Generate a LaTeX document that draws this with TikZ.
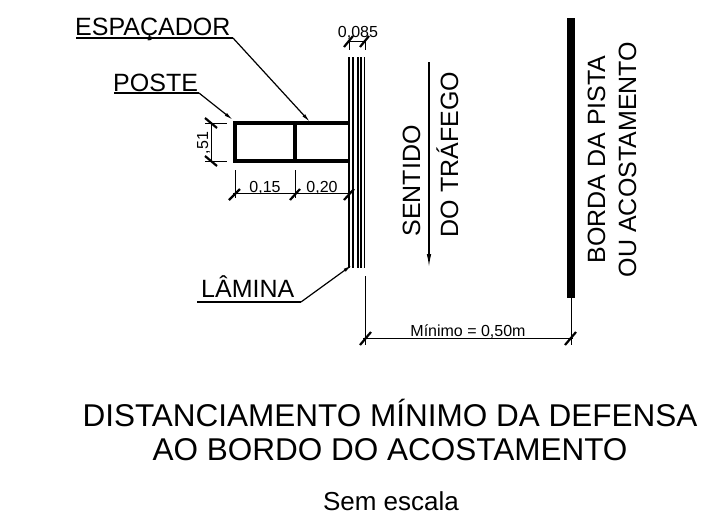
\documentclass[tikz,border=0pt]{standalone}
\usepackage{fontspec}
\setmainfont{Liberation Sans}
\usetikzlibrary{arrows.meta}
\tikzset{
  lbl/.style={inner sep=0pt,anchor=base west,text=black},
  heavy/.style={draw=black,line width=3.2pt},
  under/.style={draw=black,line width=1.5pt},
  leader/.style={draw=black,line width=1.2pt,-{Latex[length=9pt,width=3.5pt]}},
  tick/.style={draw=black,line width=2.2pt},
  dimline/.style={draw=black,line width=1pt},
  big/.style={font=\fontsize{25}{25}\selectfont},
  mid/.style={font=\fontsize{25}{25}\selectfont},
  dimtext/.style={font=\fontsize{16}{16}\selectfont},
}
\begin{document}
\begin{tikzpicture}[x=1pt,y=-1pt]
\useasboundingbox (0,0) rectangle (702,517);
% Labels
\node[lbl,big] (esp) at (75,35) {ESPAÇADOR};
\node[lbl,big] (pos) at (113,91) {POSTE};
\node[lbl,big] (lam) at (201,297) {LÂMINA};
% Post and spacer
\draw[heavy] (235,123) rectangle (295,161);
\draw[heavy] (295,123) -- (348,123) (295,161) -- (348,161);
% Leaders
\coordinate (e0) at (76,38); \coordinate (e1) at (233,38); \coordinate (e2) at (310,122);
\draw[under] (e0) -- (e1);
\draw[leader] (e1) -- (e2);
\coordinate (q0) at (114,93); \coordinate (q1) at (199,93); \coordinate (q2) at (233,120);
\draw[under] (q0) -- (q1);
\draw[leader] (q1) -- (q2);
\coordinate (l0) at (197,302); \coordinate (l1) at (301,302); \coordinate (l2) at (352,265);
\draw[under] (l0) -- (l1);
\draw[leader] (l1) -- (l2);
% Blade
\foreach \x/\w in {349/1.2,353/1.2,358/1.5,361/1.5,364.5/1.5}{
  \draw[draw=black,line width=\w pt] (\x,57) -- (\x,268);
}
% dim 0,085
\node[anchor=base,inner sep=0pt,dimtext] (d085) at (358,37) {0,085};
\draw[dimline] (349,41) -- (365,41) (349,41) -- (349,50) (365,41) -- (365,50);
\draw[tick] (344,47) -- (353,36);
\draw[tick] (360,47) -- (369,36);
% dim ,51
\node[rotate=90,anchor=base,inner sep=0pt,dimtext] (d51) at (208,143) {,51};
\draw[dimline] (211,123) -- (211,161) (205,123) -- (227,123) (205,161) -- (227,161);
\draw[tick] (205,118) -- (217,128);
\draw[tick] (205,156) -- (217,166);
% dim 0,15 0,20
\draw[dimline] (235,170) -- (235,198) (295,170) -- (295,198);
\draw[dimline] (233,193) -- (350,193);
\draw[tick] (229,200) -- (240,189);
\draw[tick] (290,200) -- (300,189);
\draw[tick] (344,200) -- (354,189);
\node[anchor=base,inner sep=0pt,dimtext] (d15) at (265,192) {0,15};
\node[anchor=base,inner sep=0pt,dimtext] (d20) at (322,192) {0,20};
% Traffic
\node[rotate=90,anchor=base,inner sep=0pt,mid] (sen) at (420,181) {SENTIDO};
\node[rotate=90,anchor=base,inner sep=0pt,mid] (tra) at (458,154.5) {DO TRÁFEGO};
\coordinate (a0) at (429,62); \coordinate (a1) at (429,267);
\draw[draw=black,line width=1.2pt,-{Latex[length=13pt,width=4.5pt]}] (a0) -- (a1);
% Road edge
\draw[draw=black,line width=8pt] (571,18) -- (571,298);
\node[rotate=90,anchor=base,inner sep=0pt,mid] (bor) at (605,159.5) {BORDA DA PISTA};
\node[rotate=90,anchor=base,inner sep=0pt,mid] (acc) at (636,159.5) {OU ACOSTAMENTO};
% dim minimum
\draw[dimline] (365,276) -- (365,345) (571,298) -- (571,345);
\draw[dimline] (363,338) -- (573,338);
\draw[tick] (360,345) -- (371,332);
\draw[tick] (565,345) -- (576,332);
\node[anchor=base,inner sep=0pt,dimtext] (min) at (468,336) {Mínimo = 0,50m};
% Title
\node[anchor=base,inner sep=0pt,font=\fontsize{31.5}{31.5}\selectfont] (t1) at (390,426) {DISTANCIAMENTO MÍNIMO DA DEFENSA};
\node[anchor=base,inner sep=0pt,font=\fontsize{31.5}{31.5}\selectfont] (t2) at (390,460) {AO BORDO DO ACOSTAMENTO};
\node[anchor=base,inner sep=0pt,font=\fontsize{26}{26}\selectfont] (t3) at (391,510) {Sem escala};
\end{tikzpicture}
\end{document}
